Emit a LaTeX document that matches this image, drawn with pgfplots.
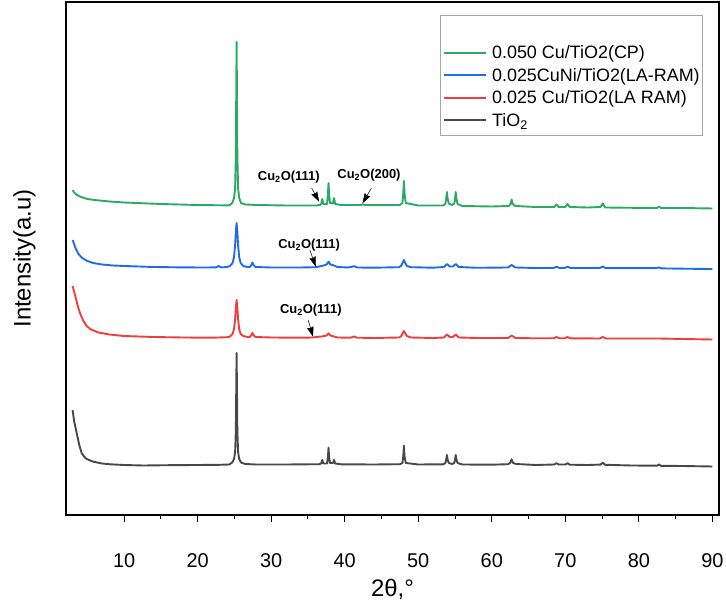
\documentclass[border=0pt]{standalone}
\usepackage{pgfplots}
\pgfplotsset{compat=1.18}
\usepackage{fontspec}
\setmainfont{Liberation Sans}
\usetikzlibrary{arrows.meta}

\definecolor{cpgreen}{RGB}{42,170,98}
\definecolor{ramblue}{RGB}{30,108,232}
\definecolor{ramred}{RGB}{240,62,62}
\definecolor{tiogray}{RGB}{72,72,72}

\begin{document}
\begin{tikzpicture}
\useasboundingbox (0,0) rectangle (726bp,603bp);
\begin{axis}[
  at={(66bp,88bp)}, anchor=south west,
  scale only axis, width=653bp, height=513bp,
  xmin=2.1, xmax=90.9, ymin=0, ymax=513,
  axis line style={black, line width=1.3bp},
  xtick={10,20,...,90}, minor x tick num=1,
  xtick pos=bottom, ytick=\empty,
  tick align=outside,
  major tick length=7bp, minor tick length=4bp,
  every tick/.style={black, line width=1bp},
  /pgf/number format/assume math mode=true,
  xticklabel style={font=\fontsize{20}{24}\selectfont, anchor=base, yshift=-45bp},
  xlabel={2θ,°},
  xlabel style={font=\fontsize{24}{28}\selectfont, at={(axis description cs:0.5,-0.158)}, anchor=base},
  ylabel={Intensity(a.u)},
  ylabel style={font=\fontsize{24}{28}\selectfont, at={(axis description cs:-0.0413,0.5)}, rotate=0, anchor=south},
  legend style={at={(rel axis cs:0.9755,0.9747)}, anchor=north east,
    draw=gray!70, line width=0.6bp, fill=white,
    font=\fontsize{18}{21}\selectfont,
    inner xsep=3bp, inner ysep=6bp, column sep=5bp, row sep=4.5bp,
    nodes={inner sep=0pt, text height=15bp, text depth=3bp}},
  legend cell align=left,
  legend image code/.code={\draw[#1, line width=1.8bp] (0bp,0bp) -- (42bp,0bp);},
  every axis plot/.append style={line width=1.9bp, line join=round},
]
\addlegendimage{empty legend}
\addlegendentry{}

% 0.050 Cu/TiO2 (CP)
\addplot[cpgreen] coordinates {
 (3.0,325) (3.2,322.5) (3.5,320.5) (4.0,318.5) (5.0,316) (6,315) (8,313.5) (10,312.5) (15,311) (20,310) (24.3,309.6)
 (24.7,312) (24.95,317) (25.1,327) (25.2,360) (25.25,420) (25.3,473) (25.35,420) (25.4,360) (25.5,327) (25.65,317) (25.9,312) (26.5,310.5)
 (28,310) (32,309.5) (36.3,309.5) (36.45,310.3) (36.6,309.8)
 (36.8,311) (36.95,316) (37.1,311)
 (37.6,311) (37.72,321) (37.8,332) (37.88,321) (38.0,312)
 (38.4,311.5) (38.55,317) (38.7,311)
 (39.5,310) (42.2,310) (42.45,310.8) (42.7,310) (44,309.8) (47.5,310)
 (47.85,312) (47.97,322) (48.05,334) (48.13,322) (48.3,312)
 (50,309.5) (53.4,309.5)
 (53.7,311.5) (53.82,317) (53.9,323) (53.98,317) (54.15,311.5) (54.6,310)
 (54.9,311.5) (55.02,317) (55.1,323) (55.18,317) (55.35,311) (56,309)
 (60,308.5) (62.3,309) (62.55,311) (62.7,315.5) (62.85,311) (63.2,309)
 (66,308) (68.5,308) (68.8,310.5) (69.1,308) (70,308) (70.3,311) (70.6,308) (73,307.5)
 (74.8,308) (75.1,311.5) (75.4,307.5) (79,307.2) (82.5,307) (82.75,308.5) (83,307) (86,307) (90,306.5)
};
\addlegendentry{0.050 Cu/TiO2(CP)}

% 0.025 CuNi/TiO2 (LA-RAM)
\addplot[ramblue] coordinates {
 (3.0,275) (3.15,272) (3.4,267) (3.8,261) (4.3,257) (5.0,254) (5.8,252) (7,250.5) (8.5,249.5) (10,249) (14,248) (18,247.6)
 (21,247.5) (22.5,247.6) (22.85,249) (23.2,247.6) (24,248)
 (24.4,249) (24.75,252) (24.95,258) (25.1,270) (25.2,283) (25.3,292) (25.4,283) (25.5,270) (25.65,258) (25.85,252) (26.2,249) (26.8,248)
 (27.1,248) (27.3,250) (27.45,252.5) (27.6,250) (27.85,248)
 (30,247.5) (34,247.5) (36.1,247.8) (36.4,248.3) (36.9,249) (37.55,250.5) (37.8,253.3) (38.05,250.5) (38.55,249.5) (39,248)
 (40.5,247.5) (41.3,248.8) (41.7,247.5) (44,247.3) (47.4,247.8)
 (47.7,249.5) (47.9,252.5) (48.05,255) (48.2,252.5) (48.45,249) (49,247.8)
 (52,247.3) (53.5,248) (53.9,251) (54.3,248.5) (54.7,248.5) (55.1,251) (55.5,248) (58,247.2)
 (62.2,247.5) (62.7,250) (63.2,247.5) (66,247)
 (68.4,247) (68.8,248.3) (69.2,247) (69.9,247) (70.3,248.3) (70.7,247) (72,247)
 (74.7,247) (75.1,248.5) (75.5,246.8) (82.3,246.8) (82.7,247.5) (83.1,246.6) (86,246.3) (90,246)
};
\addlegendentry{0.025CuNi/TiO2(LA-RAM)}

% 0.025 Cu/TiO2 (LA RAM)
\addplot[ramred] coordinates {
 (3.0,229) (3.1,226) (3.3,221) (3.5,215) (3.7,209) (4.0,202) (4.4,195) (4.9,189) (5.5,185.5) (6.5,182.5) (8,180.5) (10,179)
 (14,178) (18,177.5) (22,177.3) (24,177.8)
 (24.4,178.5) (24.75,181) (24.95,186) (25.1,196) (25.2,207) (25.3,215) (25.4,207) (25.5,196) (25.65,186) (25.85,181) (26.2,179) (26.8,178)
 (27.1,178) (27.3,180) (27.45,182) (27.6,180) (27.85,178)
 (30,177.5) (34,177.3) (35.7,177.5) (36.1,178) (36.9,178.5) (37.55,179.5) (37.8,181.7) (38.05,179.5) (38.55,178.5) (39,177.5)
 (40.8,177.3) (41.25,178.5) (41.7,177.3) (44,177) (47.4,177.5)
 (47.7,179) (47.9,182) (48.05,184) (48.2,182) (48.45,179) (49,177.5)
 (52,177) (53.5,177.5) (53.9,180.5) (54.3,178) (54.7,178) (55.1,180.5) (55.5,177.5) (58,177)
 (62.2,177) (62.7,179.5) (63.2,177) (66,176.7)
 (68.4,176.7) (68.8,178) (69.2,176.7) (69.9,176.7) (70.3,178) (70.7,176.7)
 (74.7,176.5) (75.1,178) (75.5,176.5) (82.7,176.5) (86,176) (90,175.5)
};
\addlegendentry{0.025 Cu/TiO2(LA RAM)}

% bare TiO2
\addplot[tiogray] coordinates {
 (3.0,105) (3.2,94) (3.56,81.7) (3.9,70) (4.24,61.7) (4.6,58) (4.92,56) (5.4,54.5) (5.82,53.3) (7,51.5) (8.1,50.7)
 (10,50) (12.6,49.5) (16,49.8) (20,50) (23,50.2) (24.3,50.5)
 (24.7,52.5) (24.95,56) (25.1,63) (25.2,85) (25.25,125) (25.3,162) (25.35,125) (25.4,85) (25.5,63) (25.65,56) (25.9,52.5) (26.5,51)
 (28,50.5) (32,50.5) (36.5,50.8)
 (36.8,51.5) (36.95,55) (37.1,51.5)
 (37.6,51.5) (37.72,58) (37.8,67.3) (37.88,58) (38.0,52)
 (38.4,52) (38.55,55) (38.7,51.5)
 (39.5,50.7) (44,50.5) (47.5,50.8)
 (47.85,52) (47.97,59) (48.05,69.3) (48.13,59) (48.3,52)
 (50,50.5) (53.4,50.7)
 (53.7,52) (53.82,56) (53.9,60) (53.98,56) (54.15,52) (54.6,51)
 (54.9,52) (55.02,56) (55.1,60) (55.18,56) (55.35,52)
 (56,50.5) (60,50.3) (62.2,50.8)
 (62.5,52) (62.7,55.7) (62.9,52) (63.3,51)
 (66,50) (68.5,50.5) (68.8,51.8) (69.1,50.5) (70.0,50.5) (70.3,51.8) (70.6,50.3) (73,50)
 (74.8,50.4) (75.1,52.3) (75.4,50.2) (79,49.5) (82.5,49.3) (82.75,50.5) (83,49.2) (86,49) (90,48.5)
};
\addlegendentry{TiO\textsubscript{2}}

% Cu2O reflections
\begin{scope}[every node/.style={font=\bfseries\fontsize{13}{15}\selectfont, inner sep=0pt}]
\node at (axis cs:32.4,338) {Cu\textsubscript{2}O(111)};
\node at (axis cs:43.3,340) {Cu\textsubscript{2}O(200)};
\node at (axis cs:35.16,270) {Cu\textsubscript{2}O(111)};
\node at (axis cs:35.4,205) {Cu\textsubscript{2}O(111)};
\end{scope}
\begin{scope}[-{Stealth[length=10bp,width=6.5bp,inset=1bp]}, line width=0.5bp, black]
\draw (axis cs:35.5,327) -- (axis cs:36.52,313.3);
\draw (axis cs:43.64,327) -- (axis cs:42.42,311.7);
\draw (axis cs:35.26,265) -- (axis cs:36.07,248.3);
\draw (axis cs:35.03,195) -- (axis cs:35.7,178.2);
\end{scope}
\end{axis}
\end{tikzpicture}
\end{document}
